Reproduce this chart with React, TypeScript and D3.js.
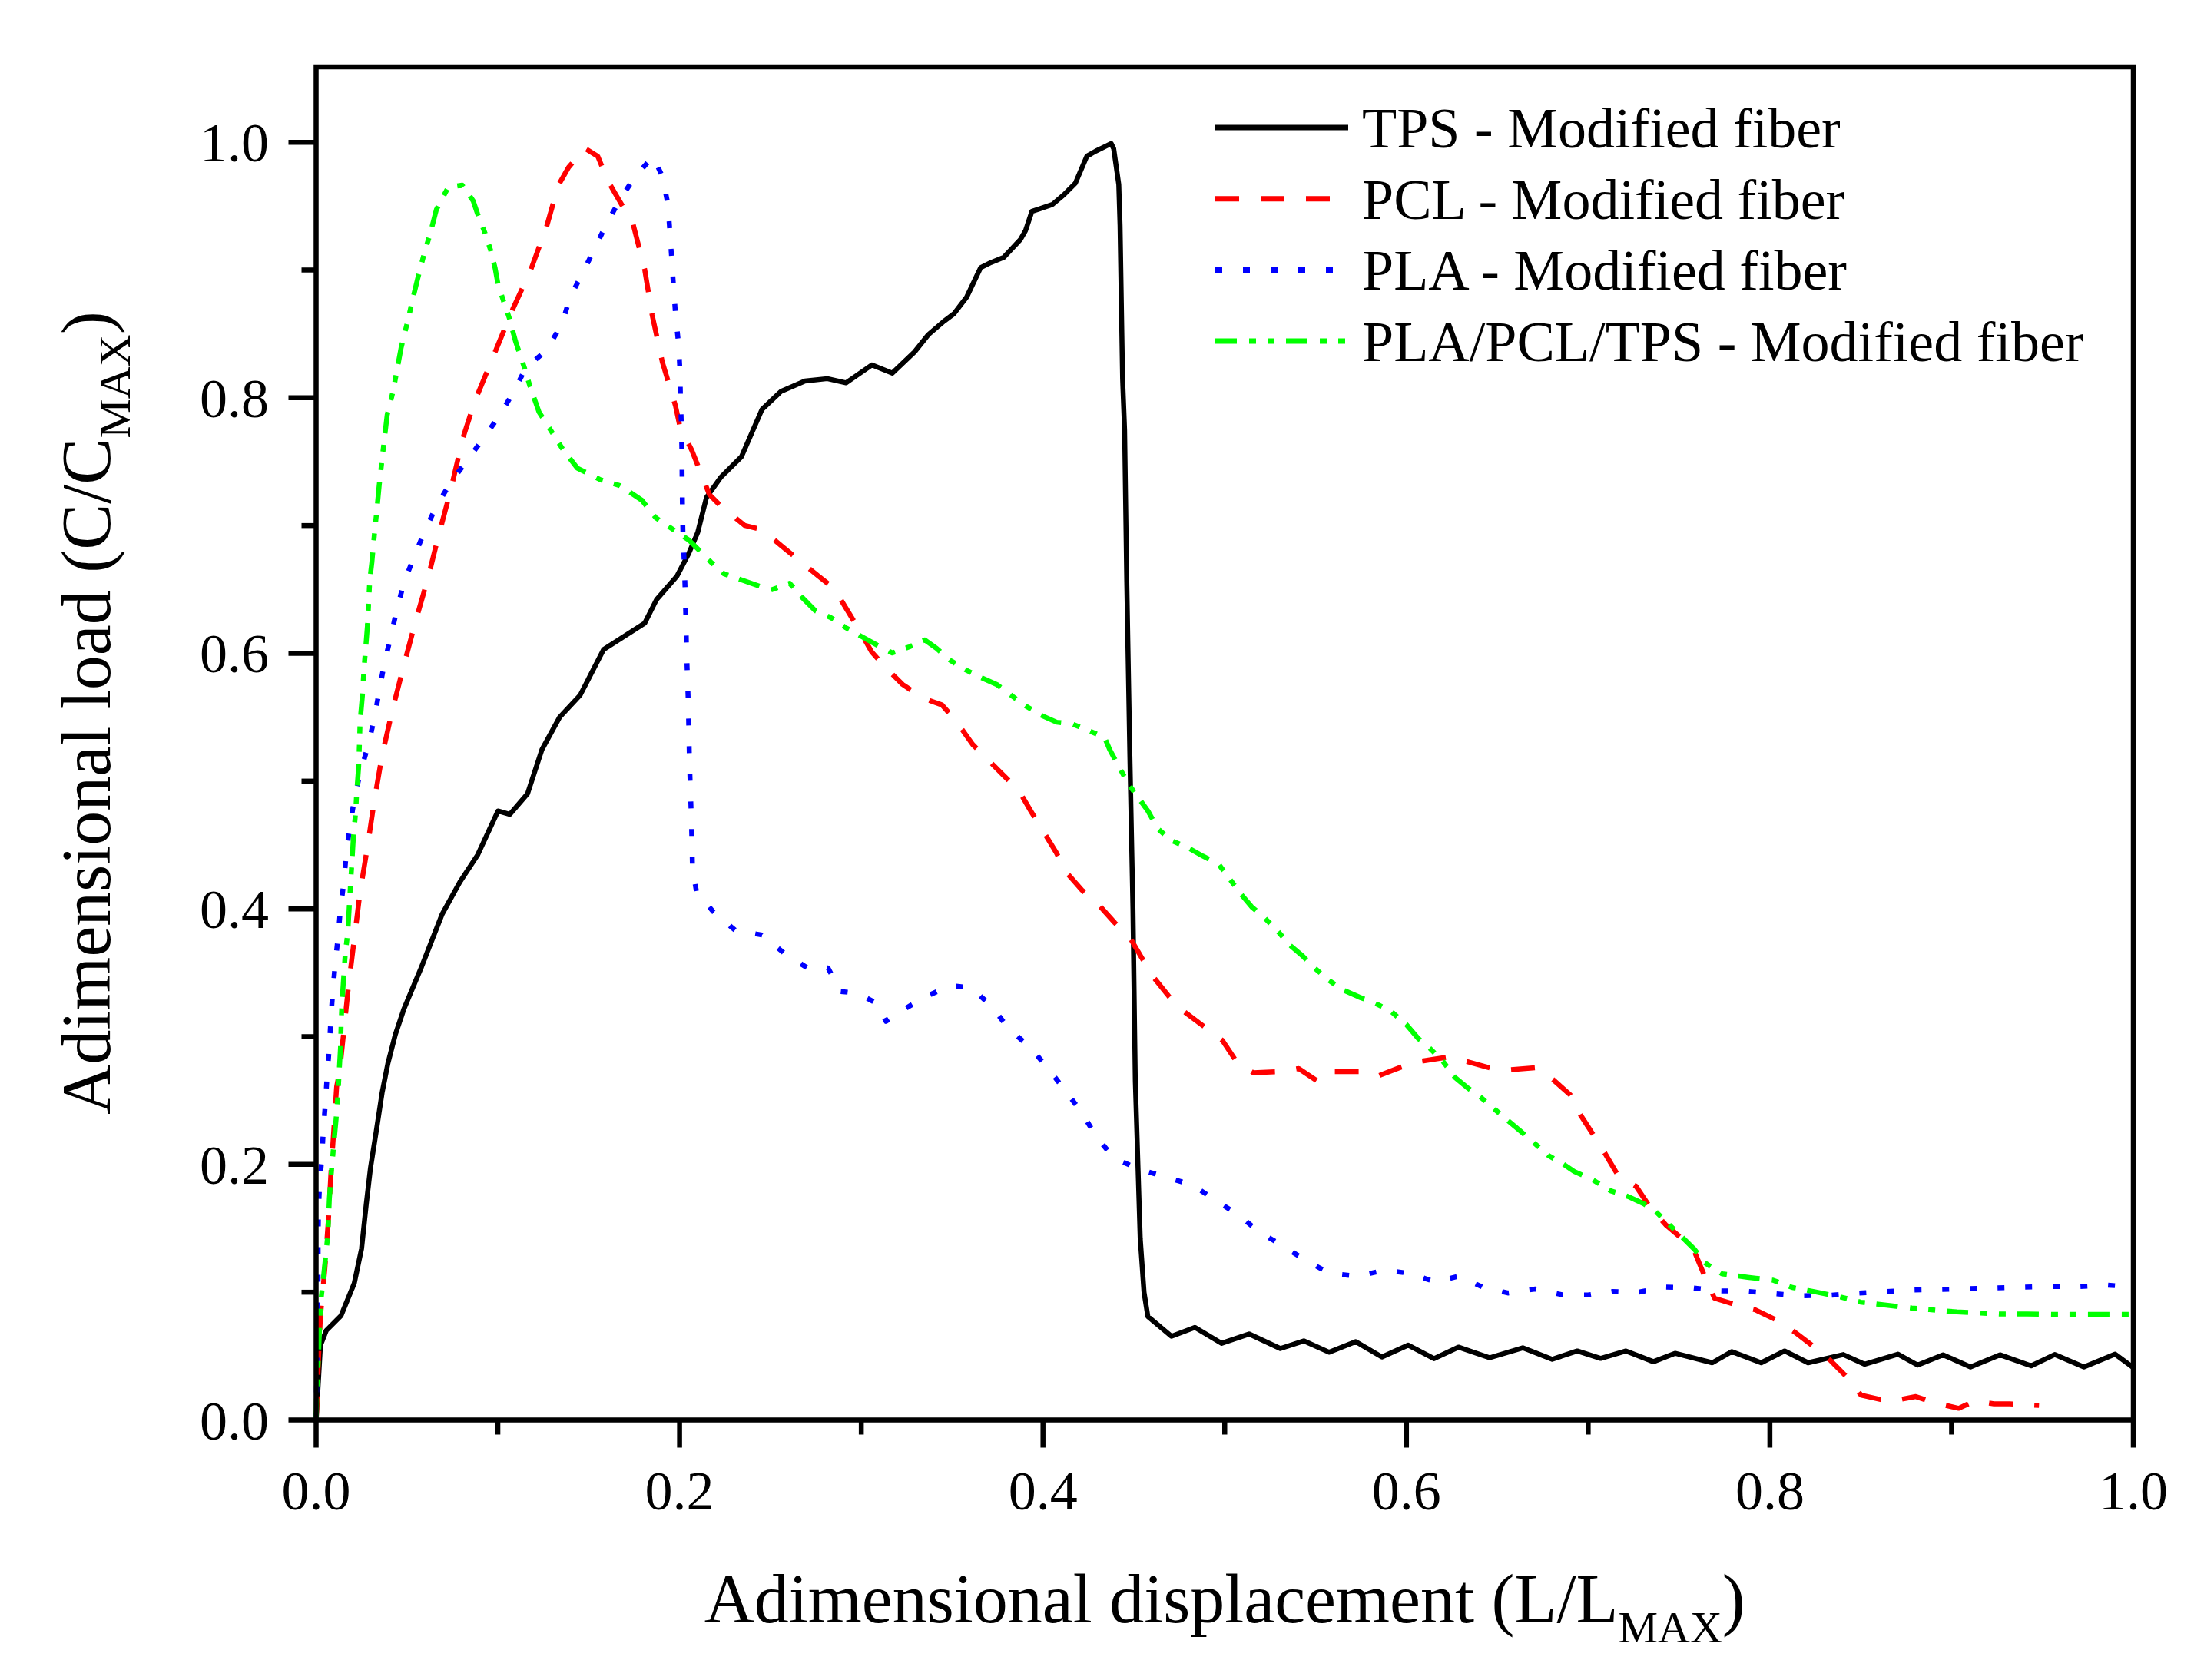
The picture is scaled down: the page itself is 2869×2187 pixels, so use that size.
import React from "react";
import * as d3 from "d3";

// ---------------- data ----------------
const seriesNames = [
  "TPS - Modified fiber",
  "PCL - Modified fiber",
  "PLA - Modified fiber",
  "PLA/PCL/TPS - Modified fiber",
];

const majorTicks = [0, 0.2, 0.4, 0.6, 0.8, 1.0];
const minorTicks = [0.1, 0.3, 0.5, 0.7, 0.9];

const tpsData: [number, number][] = [
  [0, 0], [0.0024, 0.0585], [0.0056, 0.07], [0.0137, 0.0816], [0.021, 0.107], [0.025, 0.134],
  [0.0276, 0.169], [0.0299, 0.197], [0.0331, 0.226], [0.0363, 0.256], [0.0395, 0.279],
  [0.0436, 0.3017], [0.0484, 0.322], [0.058, 0.3546], [0.0694, 0.396], [0.0791, 0.421],
  [0.0888, 0.442], [0.1001, 0.4766], [0.1066, 0.474], [0.1163, 0.49], [0.1243, 0.5248],
  [0.134, 0.55], [0.1453, 0.5673], [0.1582, 0.603], [0.1808, 0.6236], [0.1873, 0.642],
  [0.1986, 0.6605], [0.205, 0.678], [0.21, 0.6947], [0.2148, 0.722], [0.2228, 0.738],
  [0.2341, 0.754], [0.2454, 0.791], [0.2558, 0.805], [0.269, 0.8131], [0.2813, 0.815],
  [0.2916, 0.8117], [0.3058, 0.8257], [0.3171, 0.8193], [0.3293, 0.8359], [0.3369, 0.8494],
  [0.3454, 0.8598], [0.351, 0.8658], [0.358, 0.8788], [0.3657, 0.9019], [0.3714, 0.9059],
  [0.3784, 0.9099], [0.3876, 0.9239], [0.3904, 0.9309], [0.3939, 0.9459], [0.3981, 0.9479],
  [0.4052, 0.9513], [0.4115, 0.9589], [0.4178, 0.9679], [0.4241, 0.989], [0.429, 0.993],
  [0.4347, 0.997], [0.4375, 0.999], [0.4389, 0.995], [0.4417, 0.9669], [0.4424, 0.9349],
  [0.4431, 0.8748], [0.4438, 0.8148], [0.4449, 0.7748], [0.4461, 0.656], [0.4478, 0.52],
  [0.4495, 0.4], [0.4508, 0.265], [0.4535, 0.142], [0.4556, 0.1], [0.4577, 0.081],
  [0.4707, 0.0655], [0.4836, 0.0724], [0.4983, 0.06], [0.5134, 0.0673], [0.5306, 0.0559],
  [0.5435, 0.0619], [0.5575, 0.053], [0.5721, 0.0613], [0.5865, 0.0493], [0.601, 0.0586],
  [0.6152, 0.048], [0.6286, 0.057], [0.6458, 0.0487], [0.664, 0.0565], [0.6802, 0.0475],
  [0.694, 0.054], [0.7069, 0.0482], [0.7208, 0.054], [0.7359, 0.0456], [0.7478, 0.0522],
  [0.7683, 0.0448], [0.779, 0.0535], [0.7952, 0.0448], [0.8081, 0.054], [0.821, 0.0448],
  [0.8404, 0.0512], [0.8522, 0.0436], [0.8705, 0.0515], [0.8813, 0.043], [0.8953, 0.051],
  [0.9104, 0.0415], [0.9266, 0.051], [0.9438, 0.0424], [0.9567, 0.0512], [0.9728, 0.0415],
  [0.99, 0.0515], [1.0, 0.041],
];

const pclData: [number, number][] = [
  [0, 0], [0.0003, 0.008], [0.0013, 0.0471], [0.0024, 0.0816], [0.0048, 0.1184], [0.0068, 0.1574],
  [0.0081, 0.1919], [0.0097, 0.2264], [0.0113, 0.2609], [0.0129, 0.2724], [0.0153, 0.305],
  [0.0178, 0.3396], [0.021, 0.3764], [0.0242, 0.4132], [0.0283, 0.4489], [0.032, 0.4845],
  [0.0363, 0.5201], [0.042, 0.5558], [0.0484, 0.5914], [0.0549, 0.6259], [0.0614, 0.6581],
  [0.067, 0.69], [0.0743, 0.7291], [0.0807, 0.7682], [0.0872, 0.7969], [0.0969, 0.8303],
  [0.1082, 0.8694], [0.1179, 0.8993], [0.1268, 0.9338], [0.1332, 0.966], [0.1389, 0.9803],
  [0.1478, 0.9954], [0.155, 0.989], [0.1607, 0.9694], [0.1663, 0.9556], [0.1744, 0.9361],
  [0.1808, 0.9005], [0.1849, 0.8649], [0.1905, 0.8281], [0.1978, 0.7935], [0.2002, 0.7774],
  [0.2067, 0.759], [0.2164, 0.7243], [0.2228, 0.7151], [0.2357, 0.7002], [0.2454, 0.6967],
  [0.2559, 0.6843], [0.2766, 0.6602], [0.285, 0.6508], [0.2982, 0.6199], [0.3058, 0.601],
  [0.3133, 0.589], [0.3227, 0.5757], [0.334, 0.5649], [0.3444, 0.5596], [0.3519, 0.5475],
  [0.3613, 0.5287], [0.3783, 0.5045], [0.3868, 0.4924], [0.3934, 0.4763], [0.3986, 0.4643],
  [0.4072, 0.4443], [0.4126, 0.429], [0.4212, 0.415], [0.4298, 0.4045], [0.4395, 0.3891],
  [0.4481, 0.3768], [0.4556, 0.3586], [0.461, 0.3462], [0.4696, 0.331], [0.4772, 0.3201],
  [0.4901, 0.3063], [0.4987, 0.2971], [0.5073, 0.2787], [0.5159, 0.2717], [0.5299, 0.2726],
  [0.5407, 0.275], [0.5514, 0.2649], [0.5601, 0.2726], [0.5741, 0.2726], [0.5838, 0.2689],
  [0.5978, 0.2766], [0.6085, 0.2809], [0.6225, 0.284], [0.6322, 0.2809], [0.6473, 0.275],
  [0.657, 0.2741], [0.671, 0.2757], [0.6806, 0.2665], [0.6903, 0.2542], [0.6957, 0.2389],
  [0.7033, 0.2221], [0.709, 0.2093], [0.7166, 0.191], [0.7263, 0.183], [0.734, 0.1666],
  [0.7426, 0.1529], [0.7512, 0.1425], [0.7587, 0.131], [0.7641, 0.1126], [0.7695, 0.0953],
  [0.7825, 0.0896], [0.792, 0.0862], [0.804, 0.078], [0.8135, 0.069], [0.8254, 0.056],
  [0.833, 0.047], [0.8426, 0.0333], [0.8501, 0.0195], [0.8609, 0.016], [0.8673, 0.0149],
  [0.8803, 0.0183], [0.89, 0.0137], [0.9039, 0.0091], [0.9126, 0.0149], [0.9233, 0.0126],
  [0.932, 0.0126], [0.9481, 0.0114],
];

const plaData: [number, number][] = [
  [0, 0], [0.0003, 0.031], [0.0005, 0.0539], [0.001, 0.0965], [0.0011, 0.1188], [0.0011, 0.1409],
  [0.0013, 0.1625], [0.0019, 0.1839], [0.0032, 0.2057], [0.004, 0.2276], [0.0052, 0.2494],
  [0.0061, 0.2706], [0.0073, 0.292], [0.0081, 0.3141], [0.0092, 0.3358], [0.0105, 0.3569],
  [0.0121, 0.3783], [0.0134, 0.4001], [0.0153, 0.4212], [0.0166, 0.4438], [0.0186, 0.4644],
  [0.021, 0.4856], [0.0242, 0.5063], [0.0286, 0.5277], [0.032, 0.5489], [0.0347, 0.5703],
  [0.0375, 0.5919], [0.0409, 0.6121], [0.0444, 0.634], [0.0484, 0.6558], [0.0541, 0.6761],
  [0.0597, 0.6956], [0.0662, 0.7152], [0.074, 0.7336], [0.0824, 0.7497], [0.092, 0.7681],
  [0.1009, 0.7861], [0.109, 0.8054], [0.1155, 0.8238], [0.1268, 0.8371], [0.1353, 0.8578],
  [0.1397, 0.8785], [0.1466, 0.8974], [0.1534, 0.9172], [0.1598, 0.936], [0.1671, 0.9549],
  [0.1752, 0.9724], [0.1854, 0.9889], [0.1905, 0.9733], [0.1935, 0.9521], [0.1947, 0.9296],
  [0.1957, 0.908], [0.1967, 0.8866], [0.1978, 0.8648], [0.1994, 0.8429], [0.2002, 0.8215],
  [0.2005, 0.8004], [0.201, 0.7786], [0.2013, 0.7567], [0.2014, 0.7349], [0.2016, 0.713],
  [0.2019, 0.6919], [0.2026, 0.6705], [0.2031, 0.6478], [0.2035, 0.6259], [0.2038, 0.6041],
  [0.2043, 0.5827], [0.2048, 0.5616], [0.2051, 0.5398], [0.2054, 0.5179], [0.2059, 0.496],
  [0.2064, 0.4746], [0.2068, 0.453], [0.2071, 0.4316], [0.2093, 0.4136], [0.2184, 0.398],
  [0.2308, 0.383], [0.2454, 0.3796], [0.2582, 0.3646], [0.2704, 0.3538], [0.2817, 0.3538],
  [0.2885, 0.3354], [0.2957, 0.3343], [0.3023, 0.3308], [0.3091, 0.3255], [0.3136, 0.312],
  [0.3212, 0.3193], [0.3341, 0.3304], [0.349, 0.34], [0.3608, 0.3382], [0.3718, 0.3235],
  [0.3813, 0.306], [0.3928, 0.2918], [0.4025, 0.2757], [0.4121, 0.258], [0.4213, 0.2407],
  [0.4294, 0.2216], [0.4391, 0.2049], [0.4535, 0.1959], [0.4685, 0.1898], [0.4825, 0.1837],
  [0.4955, 0.1714], [0.5073, 0.1607], [0.5192, 0.1469], [0.5321, 0.1362], [0.5439, 0.1254],
  [0.5579, 0.1147], [0.573, 0.1126], [0.588, 0.1172], [0.602, 0.1147], [0.616, 0.108],
  [0.629, 0.1126], [0.6419, 0.104], [0.6558, 0.0994], [0.6709, 0.1025], [0.686, 0.0979],
  [0.7, 0.0979], [0.7134, 0.1006], [0.7274, 0.0999], [0.7414, 0.104], [0.7576, 0.1034],
  [0.7716, 0.1011], [0.7877, 0.1006], [0.8028, 0.0988], [0.8179, 0.0972], [0.833, 0.0976],
  [0.848, 0.0992], [0.8641, 0.1006], [0.8792, 0.1017], [0.8943, 0.1022], [0.9093, 0.1027],
  [0.9244, 0.1034], [0.9395, 0.104], [0.9556, 0.1045], [0.9707, 0.1045], [0.9858, 0.1056],
  [1.0, 0.104],
];

const blendData: [number, number][] = [
  [0, 0], [0.0003, 0.0217], [0.0013, 0.0493], [0.0019, 0.0723], [0.0024, 0.0907], [0.0036, 0.1057],
  [0.0052, 0.1275], [0.0065, 0.1459], [0.0073, 0.1735], [0.0084, 0.1943], [0.0097, 0.2154],
  [0.011, 0.2356], [0.0121, 0.2563], [0.0126, 0.2701], [0.0134, 0.2908], [0.0138, 0.3115],
  [0.0142, 0.3258], [0.0161, 0.3661], [0.0174, 0.381], [0.0182, 0.4006], [0.019, 0.4212],
  [0.0197, 0.4362], [0.0205, 0.4557], [0.0218, 0.4764], [0.0223, 0.4902], [0.0234, 0.511],
  [0.0239, 0.5317], [0.0242, 0.5466], [0.0255, 0.5673], [0.0263, 0.5868], [0.0271, 0.6011],
  [0.0283, 0.6225], [0.029, 0.6421], [0.0295, 0.657], [0.0307, 0.6715], [0.0323, 0.6966],
  [0.0334, 0.7116], [0.0347, 0.7313], [0.0363, 0.7519], [0.0375, 0.7669], [0.0391, 0.7865],
  [0.0425, 0.806], [0.0444, 0.821], [0.0468, 0.8393], [0.0504, 0.86], [0.0528, 0.875],
  [0.0557, 0.8922], [0.0597, 0.9141], [0.0627, 0.928], [0.0662, 0.9473], [0.0727, 0.9648],
  [0.0804, 0.9664], [0.0864, 0.9542], [0.0888, 0.9441], [0.0929, 0.9291], [0.0961, 0.9152],
  [0.0985, 0.9014], [0.1001, 0.8888], [0.103, 0.8762], [0.1063, 0.8624], [0.1098, 0.8439],
  [0.1147, 0.8232], [0.1176, 0.8094], [0.1227, 0.7887], [0.13, 0.7726], [0.1356, 0.76],
  [0.1437, 0.745], [0.1566, 0.7358], [0.1671, 0.7313], [0.1793, 0.7198], [0.187, 0.706],
  [0.1954, 0.6979], [0.2051, 0.6887], [0.2172, 0.6715], [0.2244, 0.6623], [0.2502, 0.6495],
  [0.2606, 0.6548], [0.2672, 0.6441], [0.2747, 0.6334], [0.2832, 0.628], [0.2916, 0.62],
  [0.3001, 0.6132], [0.3086, 0.6065], [0.3171, 0.6003], [0.3265, 0.6051], [0.335, 0.6105],
  [0.3415, 0.6038], [0.3491, 0.5944], [0.3576, 0.587], [0.366, 0.581], [0.3745, 0.5757],
  [0.3821, 0.5676], [0.3896, 0.5596], [0.399, 0.5515], [0.4075, 0.5461], [0.416, 0.5448],
  [0.4254, 0.5394], [0.4339, 0.5341], [0.4367, 0.5247], [0.4423, 0.5099], [0.447, 0.4978],
  [0.4578, 0.4765], [0.4632, 0.4627], [0.4707, 0.4535], [0.4804, 0.4474], [0.488, 0.4413],
  [0.4966, 0.4351], [0.503, 0.4229], [0.5095, 0.4106], [0.5149, 0.4015], [0.5213, 0.3938],
  [0.5289, 0.3831], [0.5353, 0.3723], [0.5429, 0.3631], [0.5493, 0.3539], [0.5568, 0.3447],
  [0.5644, 0.337], [0.5741, 0.3309], [0.5827, 0.3262], [0.5913, 0.3201], [0.6, 0.3094],
  [0.6064, 0.2987], [0.6128, 0.291], [0.6203, 0.2803], [0.6268, 0.268], [0.6332, 0.2604],
  [0.6408, 0.2527], [0.6483, 0.2435], [0.6558, 0.2343], [0.6623, 0.2266], [0.6698, 0.2174],
  [0.6784, 0.2067], [0.686, 0.2006], [0.6924, 0.1944], [0.7021, 0.1883], [0.7123, 0.1794],
  [0.722, 0.1749], [0.7306, 0.1692], [0.737, 0.1634], [0.7446, 0.1529], [0.7521, 0.1426],
  [0.7586, 0.1334], [0.764, 0.1232], [0.7737, 0.1144], [0.7877, 0.1117], [0.8017, 0.1094],
  [0.8124, 0.1037], [0.8254, 0.1002], [0.8393, 0.0961], [0.8501, 0.0922], [0.8641, 0.0899],
  [0.8781, 0.0876], [0.8878, 0.0864], [0.9028, 0.0846], [0.9265, 0.083], [0.9416, 0.083],
  [0.9567, 0.0826], [0.9804, 0.0826], [1.0, 0.0826],
];

// ---------------- layout & style ----------------
const W = 2869;
const H = 2187;
const PLOT = { left: 411.5, right: 2777, top: 87, bottom: 1848.5 };
const FONT = "'Liberation Serif', 'Times New Roman', serif";

const styles = [
  { color: "#000000", dash: "none", width: 6.5 },
  { color: "#ff0000", dash: "31 28", width: 6.5 },
  { color: "#0000ff", dash: "9 27", width: 6.5 },
  { color: "#00ff00", dash: "28 16 9 15 9 15", width: 6.5 },
];

export default function App() {
  const x = d3.scaleLinear().domain([0, 1]).range([PLOT.left, PLOT.right]);
  const y = d3.scaleLinear().domain([0, 1.059]).range([PLOT.bottom, PLOT.top]);
  const line = d3
    .line<[number, number]>()
    .x((d) => x(d[0]))
    .y((d) => y(d[1]));

  const allSeries = [tpsData, pclData, plaData, blendData];
  const fmt = d3.format(".1f");
  const majorLen = 36;
  const minorLen = 19;
  const axisW = 6.5;
  const tickFont = 72;
  const legendFont = 74;
  const titleFont = 90;

  const legendX0 = 1582;
  const legendX1 = 1755;
  const legendY0 = 166;
  const legendDy = 92.7;

  return (
    <svg
      width={W}
      height={H}
      viewBox={`0 0 ${W} ${H}`}
      style={{ position: "absolute", left: 0, top: 0, display: "block", background: "#ffffff" }}
      fontFamily={FONT}
    >
      <rect x={0} y={0} width={W} height={H} fill="#ffffff" />

      {/* data lines */}
      {allSeries.map((s, i) => (
        <path
          key={`s${i}`}
          d={line(s) || ""}
          fill="none"
          stroke={styles[i].color}
          strokeWidth={styles[i].width}
          strokeDasharray={styles[i].dash}
          strokeLinejoin="round"
          strokeLinecap="butt"
        />
      ))}

      {/* frame */}
      <rect
        x={PLOT.left}
        y={PLOT.top}
        width={PLOT.right - PLOT.left}
        height={PLOT.bottom - PLOT.top}
        fill="none"
        stroke="#000"
        strokeWidth={axisW}
      />

      {/* x ticks */}
      {majorTicks.map((t) => (
        <g key={`xm${t}`}>
          <line x1={x(t)} x2={x(t)} y1={PLOT.bottom} y2={PLOT.bottom + majorLen} stroke="#000" strokeWidth={axisW} />
          <text x={x(t)} y={1965} textAnchor="middle" fontSize={tickFont} fill="#000">
            {fmt(t)}
          </text>
        </g>
      ))}
      {minorTicks.map((t) => (
        <line key={`xn${t}`} x1={x(t)} x2={x(t)} y1={PLOT.bottom} y2={PLOT.bottom + minorLen} stroke="#000" strokeWidth={axisW} />
      ))}

      {/* y ticks */}
      {majorTicks.map((t) => (
        <g key={`ym${t}`}>
          <line x1={PLOT.left - majorLen} x2={PLOT.left} y1={y(t)} y2={y(t)} stroke="#000" strokeWidth={axisW} />
          <text x={350} y={y(t) + 25} textAnchor="end" fontSize={tickFont} fill="#000">
            {fmt(t)}
          </text>
        </g>
      ))}
      {minorTicks.map((t) => (
        <line key={`yn${t}`} x1={PLOT.left - minorLen} x2={PLOT.left} y1={y(t)} y2={y(t)} stroke="#000" strokeWidth={axisW} />
      ))}

      {/* axis titles */}
      <text x={(PLOT.left + PLOT.right) / 2} y={2112} textAnchor="middle" fontSize={titleFont} fill="#000">
        Adimensional displacement (L/L
        <tspan fontSize={58} dy={26}>MAX</tspan>
        <tspan dy={-26}>)</tspan>
      </text>
      <text transform="translate(143, 928) rotate(-90)" textAnchor="middle" fontSize={titleFont} fill="#000">
        Adimensional load (C/C
        <tspan fontSize={58} dy={26}>MAX</tspan>
        <tspan dy={-26}>)</tspan>
      </text>

      {/* legend */}
      {seriesNames.map((name, i) => {
        const ly = legendY0 + i * legendDy;
        return (
          <g key={`lg${i}`}>
            <line
              x1={legendX0}
              x2={legendX1}
              y1={ly}
              y2={ly}
              stroke={styles[i].color}
              strokeWidth={styles[i].width + 0.5}
              strokeDasharray={styles[i].dash}
            />
            <text x={1773} y={ly + 26} fontSize={legendFont} fill="#000">
              {name}
            </text>
          </g>
        );
      })}
    </svg>
  );
}
